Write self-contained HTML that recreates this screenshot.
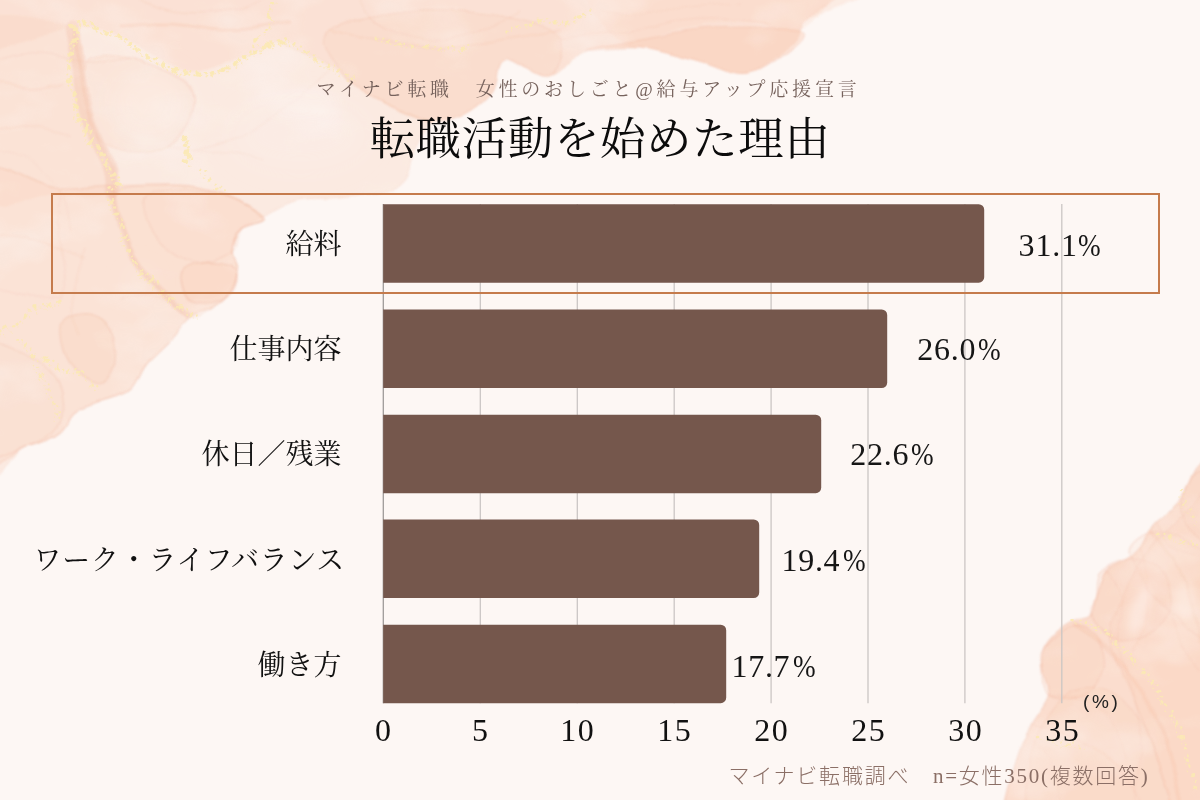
<!DOCTYPE html>
<html lang="ja">
<head>
<meta charset="utf-8">
<title>転職活動を始めた理由</title>
<style>
html,body{margin:0;padding:0;}
body{width:1200px;height:800px;overflow:hidden;position:relative;background:#fdf7f4;
  font-family:"Liberation Serif","Noto Serif CJK SC",serif;color:#111;}
svg.layer{position:absolute;left:0;top:0;width:1200px;height:800px;display:block;}
.abs{position:absolute;white-space:nowrap;}
.sub{left:1.5px;width:1200px;top:77px;text-align:center;font-size:19px;letter-spacing:3.8px;color:#76625c;line-height:26px;text-indent:-26px;}
.title{left:0;width:1200px;top:108px;text-align:center;font-size:45.5px;letter-spacing:0.6px;line-height:64px;color:#0c0c0c;text-indent:0px;}
.bar{position:absolute;left:383px;height:78.5px;background:#75574c;border-radius:0 6px 6px 0;}
.box{position:absolute;left:51px;top:193px;width:1105px;height:97px;border:2px solid #c57b4c;}
.cat{right:858.5px;font-size:28px;line-height:40px;text-align:right;color:#111;}
.val{font-size:32px;line-height:40px;color:#161616;letter-spacing:0.7px;}
.val span{display:inline-block;transform:scaleX(.85);transform-origin:0 50%;margin-left:2.2px;letter-spacing:0;}
.tick{font-size:32px;line-height:40px;width:100px;text-align:center;top:710px;color:#111;letter-spacing:1.5px;text-indent:1.5px;}
.pct{left:1083px;top:690px;font-family:"Liberation Sans",sans-serif;font-size:19px;line-height:24px;letter-spacing:2.6px;color:#222;}
.foot{left:728.5px;top:761.5px;font-family:"Liberation Serif","Noto Sans CJK JP",sans-serif;font-weight:300;font-size:21px;letter-spacing:1.76px;line-height:28px;color:#8b6f66;}
</style>
</head>
<body>
<svg class="layer" viewBox="0 0 1200 800" width="1200" height="800">
<defs>
<filter id="ink" x="-5%" y="-5%" width="110%" height="110%" color-interpolation-filters="sRGB">
  <feTurbulence type="fractalNoise" baseFrequency="0.022" numOctaves="3" seed="4" result="n"/>
  <feDisplacementMap in="SourceGraphic" in2="n" scale="8" xChannelSelector="R" yChannelSelector="G" result="d"/>
  <feGaussianBlur in="d" stdDeviation="0.8" result="b"/>
  <feTurbulence type="fractalNoise" baseFrequency="0.009 0.014" numOctaves="4" seed="21" result="m"/>
  <feColorMatrix in="m" type="matrix" values="0 0 0 0 1  0 0 0 0 1  0 0 0 0 1  1.3 0 0 0 0.34" result="ma"/>
  <feComposite in="b" in2="ma" operator="in"/>
</filter>
<filter id="soft" x="-20%" y="-20%" width="140%" height="140%"><feGaussianBlur stdDeviation="14"/></filter>
<filter id="soft2" x="-50%" y="-50%" width="200%" height="200%"><feGaussianBlur stdDeviation="4"/></filter>
<filter id="goldf" x="-5%" y="-5%" width="110%" height="110%" color-interpolation-filters="sRGB">
  <feTurbulence type="fractalNoise" baseFrequency="0.045" numOctaves="2" seed="9" result="n"/>
  <feDisplacementMap in="SourceGraphic" in2="n" scale="14" xChannelSelector="R" yChannelSelector="G"/>
</filter>
</defs>
<g filter="url(#ink)">
<path d="M-30.0,-30.0C41.7,-110.8 257.0,-30.0 400.0,-30.0C543.0,-30.0 761.0,-38.7 828.0,-30.0C895.0,-21.3 808.3,9.7 802.0,22.0C795.7,34.3 799.0,35.3 790.0,44.0C781.0,52.7 763.0,71.0 748.0,74.0C733.0,77.0 718.0,66.3 700.0,62.0C682.0,57.7 659.2,50.0 640.0,48.0C620.8,46.0 600.3,45.0 585.0,50.0C569.7,55.0 561.3,76.3 548.0,78.0C534.7,79.7 514.3,57.7 505.0,60.0C495.7,62.3 499.2,82.7 492.0,92.0C484.8,101.3 472.0,111.2 462.0,116.0C452.0,120.8 439.8,115.3 432.0,121.0C424.2,126.7 420.3,139.3 415.0,150.0C409.7,160.7 412.5,177.2 400.0,185.0C387.5,192.8 356.7,194.5 340.0,197.0C323.3,199.5 312.7,196.8 300.0,200.0C287.3,203.2 274.0,211.3 264.0,216.0C254.0,220.7 245.3,222.3 240.0,228.0C234.7,233.7 232.3,243.0 232.0,250.0C231.7,257.0 238.0,263.0 238.0,270.0C238.0,277.0 235.8,285.7 232.0,292.0C228.2,298.3 222.0,303.7 215.0,308.0C208.0,312.3 197.5,312.7 190.0,318.0C182.5,323.3 177.5,332.2 170.0,340.0C162.5,347.8 151.7,356.7 145.0,365.0C138.3,373.3 137.5,383.8 130.0,390.0C122.5,396.2 109.2,398.3 100.0,402.0C90.8,405.7 81.7,407.0 75.0,412.0C68.3,417.0 68.3,426.3 60.0,432.0C51.7,437.7 40.0,442.2 25.0,446.0C10.0,449.8 -20.8,534.3 -30.0,455.0C-39.2,375.7 -101.7,50.8 -30.0,-30.0Z" fill="#f9c6aa" fill-opacity="0.259" stroke="#f3bfa9" stroke-opacity="0.35" stroke-width="1"/>
<path d="M-30.0,-30.0C113.0,-43.3 689.3,-38.7 828.0,-30.0C966.7,-21.3 808.3,9.7 802.0,22.0C795.7,34.3 799.0,35.3 790.0,44.0C781.0,52.7 763.0,71.0 748.0,74.0C733.0,77.0 718.0,66.3 700.0,62.0C682.0,57.7 659.2,50.0 640.0,48.0C620.8,46.0 600.3,45.0 585.0,50.0C569.7,55.0 561.3,76.3 548.0,78.0C534.7,79.7 514.3,57.7 505.0,60.0C495.7,62.3 499.2,82.7 492.0,92.0C484.8,101.3 472.0,111.2 462.0,116.0C452.0,120.8 442.3,122.0 432.0,121.0C421.7,120.0 410.3,114.3 400.0,110.0C389.7,105.7 380.8,102.0 370.0,95.0C359.2,88.0 346.7,75.5 335.0,68.0C323.3,60.5 309.2,54.3 300.0,50.0C290.8,45.7 291.7,40.0 280.0,42.0C268.3,44.0 245.0,57.0 230.0,62.0C215.0,67.0 203.3,73.7 190.0,72.0C176.7,70.3 163.3,58.3 150.0,52.0C136.7,45.7 123.3,38.0 110.0,34.0C96.7,30.0 83.3,27.0 70.0,28.0C56.7,29.0 46.7,36.3 30.0,40.0C13.3,43.7 -20.0,61.7 -30.0,50.0C-40.0,38.3 -173.0,-16.7 -30.0,-30.0Z" fill="#f9c6aa" fill-opacity="0.223"/>
<path d="M330.0,30.0C343.3,20.0 388.3,11.7 420.0,10.0C451.7,8.3 496.7,15.0 520.0,20.0C543.3,25.0 555.3,30.3 560.0,40.0C564.7,49.7 557.2,74.7 548.0,78.0C538.8,81.3 514.3,57.7 505.0,60.0C495.7,62.3 499.2,82.7 492.0,92.0C484.8,101.3 472.0,111.2 462.0,116.0C452.0,120.8 442.3,122.0 432.0,121.0C421.7,120.0 410.3,114.3 400.0,110.0C389.7,105.7 380.0,101.7 370.0,95.0C360.0,88.3 346.7,80.8 340.0,70.0C333.3,59.2 316.7,40.0 330.0,30.0Z" fill="#f9c6aa" fill-opacity="0.158" stroke="#f1b9a2" stroke-opacity="0.35" stroke-width="1.2"/>
<path d="M585.0,50.0C585.0,48.7 620.8,43.3 640.0,40.0C659.2,36.7 680.0,32.0 700.0,30.0C720.0,28.0 743.3,28.0 760.0,28.0C776.7,28.0 794.2,27.2 800.0,30.0C805.8,32.8 803.7,37.7 795.0,45.0C786.3,52.3 763.8,71.2 748.0,74.0C732.2,76.8 718.0,66.3 700.0,62.0C682.0,57.7 659.2,50.0 640.0,48.0C620.8,46.0 585.0,51.3 585.0,50.0Z" fill="#f9c6aa" fill-opacity="0.36" stroke="#f1b9a2" stroke-opacity="0.45" stroke-width="1.2"/>
<path d="M600.0,-20.0C633.3,-30.0 786.7,-28.0 820.0,-20.0C853.3,-12.0 813.3,21.0 800.0,28.0C786.7,35.0 760.0,21.7 740.0,22.0C720.0,22.3 700.0,27.0 680.0,30.0C660.0,33.0 633.3,48.3 620.0,40.0C606.7,31.7 566.7,-10.0 600.0,-20.0Z" fill="#f9c6aa" fill-opacity="0.18"/>
<path d="M-30.0,30.0C-13.3,2.2 50.8,19.7 70.0,28.0C89.2,36.3 80.8,61.3 85.0,80.0C89.2,98.7 90.5,121.7 95.0,140.0C99.5,158.3 117.8,180.8 112.0,190.0C106.2,199.2 83.7,194.2 60.0,195.0C36.3,195.8 -15.0,222.5 -30.0,195.0C-45.0,167.5 -46.7,57.8 -30.0,30.0Z" fill="#f9c6aa" fill-opacity="0.194"/>
<path d="M88.0,60.0C94.7,53.0 116.3,56.0 130.0,58.0C143.7,60.0 159.7,66.7 170.0,72.0C180.3,77.3 189.0,82.0 192.0,90.0C195.0,98.0 191.7,110.8 188.0,120.0C184.3,129.2 179.7,139.7 170.0,145.0C160.3,150.3 141.7,152.8 130.0,152.0C118.3,151.2 106.7,148.7 100.0,140.0C93.3,131.3 92.0,113.3 90.0,100.0C88.0,86.7 81.3,67.0 88.0,60.0Z" fill="#f9c6aa" fill-opacity="0.144" stroke="#f2bca6" stroke-opacity="0.3" stroke-width="1.2"/>
<path d="M-30.0,185.0C-15.0,140.5 28.3,188.0 60.0,188.0C91.7,188.0 135.0,184.7 160.0,185.0C185.0,185.3 192.7,184.8 210.0,190.0C227.3,195.2 259.0,209.7 264.0,216.0C269.0,222.3 245.3,222.3 240.0,228.0C234.7,233.7 232.3,243.0 232.0,250.0C231.7,257.0 238.0,263.0 238.0,270.0C238.0,277.0 235.8,285.7 232.0,292.0C228.2,298.3 222.0,303.7 215.0,308.0C208.0,312.3 197.5,312.7 190.0,318.0C182.5,323.3 177.5,332.2 170.0,340.0C162.5,347.8 151.7,356.7 145.0,365.0C138.3,373.3 137.5,383.8 130.0,390.0C122.5,396.2 109.2,398.3 100.0,402.0C90.8,405.7 81.7,407.0 75.0,412.0C68.3,417.0 68.3,426.3 60.0,432.0C51.7,437.7 40.0,442.2 25.0,446.0C10.0,449.8 -20.8,498.5 -30.0,455.0C-39.2,411.5 -45.0,229.5 -30.0,185.0Z" fill="#f9c6aa" fill-opacity="0.194" stroke="#f0b59d" stroke-opacity="0.45" stroke-width="1.2"/>
<path d="M118.0,192.0C124.0,184.3 144.7,186.3 160.0,186.0C175.3,185.7 192.7,185.0 210.0,190.0C227.3,195.0 259.0,209.7 264.0,216.0C269.0,222.3 245.3,222.3 240.0,228.0C234.7,233.7 232.3,243.0 232.0,250.0C231.7,257.0 238.0,263.0 238.0,270.0C238.0,277.0 235.8,285.7 232.0,292.0C228.2,298.3 222.0,303.7 215.0,308.0C208.0,312.3 198.3,320.0 190.0,318.0C181.7,316.0 173.3,304.3 165.0,296.0C156.7,287.7 146.8,278.7 140.0,268.0C133.2,257.3 127.7,244.7 124.0,232.0C120.3,219.3 112.0,199.7 118.0,192.0Z" fill="#f9c6aa" fill-opacity="0.079" stroke="#f0b59d" stroke-opacity="0.3" stroke-width="1.2"/>
<path d="M182.0,272.0C184.8,266.0 196.7,263.0 205.0,262.0C213.3,261.0 226.5,263.0 232.0,266.0C237.5,269.0 238.3,275.0 238.0,280.0C237.7,285.0 234.7,292.0 230.0,296.0C225.3,300.0 217.0,303.7 210.0,304.0C203.0,304.3 192.7,303.3 188.0,298.0C183.3,292.7 179.2,278.0 182.0,272.0Z" fill="#f9c6aa" fill-opacity="0.187" stroke="#efb199" stroke-opacity="0.5" stroke-width="1.2"/>
<path d="M150.0,195.0C160.0,189.5 191.3,188.5 210.0,192.0C228.7,195.5 257.0,210.0 262.0,216.0C267.0,222.0 245.0,222.3 240.0,228.0C235.0,233.7 238.7,244.3 232.0,250.0C225.3,255.7 210.3,262.0 200.0,262.0C189.7,262.0 178.3,256.2 170.0,250.0C161.7,243.8 153.3,234.2 150.0,225.0C146.7,215.8 140.0,200.5 150.0,195.0Z" fill="#f9c6aa" fill-opacity="0.05" stroke="#f0b59d" stroke-opacity="0.3" stroke-width="1.2"/>
<path d="M62.0,322.0C66.3,315.7 81.7,312.7 90.0,314.0C98.3,315.3 107.7,322.3 112.0,330.0C116.3,337.7 117.3,351.0 116.0,360.0C114.7,369.0 110.0,381.3 104.0,384.0C98.0,386.7 86.7,381.3 80.0,376.0C73.3,370.7 67.0,361.0 64.0,352.0C61.0,343.0 57.7,328.3 62.0,322.0Z" fill="#f9c6aa" fill-opacity="0.216" stroke="#f0b59d" stroke-opacity="0.45" stroke-width="1.2"/>
<path d="M-30.0,345.0C-21.7,327.5 6.7,345.5 20.0,350.0C33.3,354.5 43.0,363.7 50.0,372.0C57.0,380.3 60.7,391.2 62.0,400.0C63.3,408.8 63.3,417.7 58.0,425.0C52.7,432.3 44.7,439.0 30.0,444.0C15.3,449.0 -20.0,471.5 -30.0,455.0C-40.0,438.5 -38.3,362.5 -30.0,345.0Z" fill="#f9c6aa" fill-opacity="0.086" stroke="#f0b59d" stroke-opacity="0.35" stroke-width="1.2"/>
<path d="M72.0,28.0C73.0,33.3 76.3,48.8 78.0,60.0C79.7,71.2 79.7,83.3 82.0,95.0C84.3,106.7 87.7,118.3 92.0,130.0C96.3,141.7 104.3,154.7 108.0,165.0C111.7,175.3 113.0,187.5 114.0,192.0" fill="none" stroke="#f3b79b" stroke-opacity="0.3" stroke-width="13" stroke-linecap="round"/>
<path d="M74.0,30.0C75.0,35.3 78.2,50.8 80.0,62.0C81.8,73.2 82.5,85.3 85.0,97.0C87.5,108.7 90.8,120.5 95.0,132.0C99.2,143.5 106.5,156.0 110.0,166.0C113.5,176.0 115.0,187.7 116.0,192.0" fill="none" stroke="#f3b79b" stroke-opacity="0.27" stroke-width="3" stroke-linecap="round"/>
<path d="M114.0,192.0C115.3,198.3 117.7,217.3 122.0,230.0C126.3,242.7 132.8,257.2 140.0,268.0C147.2,278.8 156.7,287.0 165.0,295.0C173.3,303.0 185.8,312.5 190.0,316.0" fill="none" stroke="#f3b79b" stroke-opacity="0.3" stroke-width="6" stroke-linecap="round"/>
<path d="M86.0,250.0C84.3,255.0 78.7,270.0 76.0,280.0C73.3,290.0 69.3,300.8 70.0,310.0C70.7,319.2 78.3,330.8 80.0,335.0" fill="none" stroke="#f3b79b" stroke-opacity="0.18" stroke-width="1.5" stroke-linecap="round"/>
<path d="M120.0,26.0C128.3,25.7 153.3,23.3 170.0,24.0C186.7,24.7 205.8,29.3 220.0,30.0C234.2,30.7 243.3,29.3 255.0,28.0C266.7,26.7 284.2,23.0 290.0,22.0" fill="none" stroke="#f3b79b" stroke-opacity="0.27" stroke-width="3" stroke-linecap="round"/>
<path d="M280.0,42.0C288.3,46.0 315.0,57.2 330.0,66.0C345.0,74.8 358.3,87.7 370.0,95.0C381.7,102.3 389.7,105.7 400.0,110.0C410.3,114.3 426.7,119.2 432.0,121.0" fill="none" stroke="#f3b79b" stroke-opacity="0.21" stroke-width="2" stroke-linecap="round"/>
<path d="M330.0,30.0C338.3,31.7 361.7,37.0 380.0,40.0C398.3,43.0 420.0,48.0 440.0,48.0C460.0,48.0 480.0,43.0 500.0,40.0C520.0,37.0 550.0,31.7 560.0,30.0" fill="none" stroke="#f3b79b" stroke-opacity="0.18" stroke-width="2" stroke-linecap="round"/>
<path d="M0.0,80.0C5.0,81.7 19.7,89.3 30.0,90.0C40.3,90.7 56.7,85.0 62.0,84.0" fill="none" stroke="#f3b79b" stroke-opacity="0.18" stroke-width="2" stroke-linecap="round"/>
<path d="M0.0,130.0C5.0,129.3 18.3,125.2 30.0,126.0C41.7,126.8 63.3,133.5 70.0,135.0" fill="none" stroke="#f3b79b" stroke-opacity="0.15" stroke-width="2" stroke-linecap="round"/>
<path d="M0.0,235.0C6.7,235.8 25.8,235.8 40.0,240.0C54.2,244.2 77.5,256.7 85.0,260.0" fill="none" stroke="#f3b79b" stroke-opacity="0.15" stroke-width="2" stroke-linecap="round"/>
<path d="M0.0,60.0C6.7,58.7 25.0,51.7 40.0,52.0C55.0,52.3 75.0,61.0 90.0,62.0C105.0,63.0 123.3,58.7 130.0,58.0" fill="none" stroke="#eeae94" stroke-opacity="0.21" stroke-width="1.2" stroke-linecap="round"/>
<path d="M130.0,58.0C136.7,60.3 159.7,66.3 170.0,72.0C180.3,77.7 189.0,83.3 192.0,92.0C195.0,100.7 192.0,115.0 188.0,124.0C184.0,133.0 171.3,142.3 168.0,146.0" fill="none" stroke="#eeae94" stroke-opacity="0.18" stroke-width="1.2" stroke-linecap="round"/>
<path d="M195.0,150.0C200.8,148.3 217.5,145.0 230.0,140.0C242.5,135.0 258.3,127.5 270.0,120.0C281.7,112.5 290.0,103.3 300.0,95.0C310.0,86.7 325.0,74.2 330.0,70.0" fill="none" stroke="#eeae94" stroke-opacity="0.168" stroke-width="1.0" stroke-linecap="round"/>
<path d="M170.0,146.0C175.0,146.7 188.3,149.0 200.0,150.0C211.7,151.0 229.7,150.3 240.0,152.0C250.3,153.7 258.3,158.7 262.0,160.0" fill="none" stroke="#eeae94" stroke-opacity="0.15" stroke-width="1.0" stroke-linecap="round"/>
<path d="M0.0,150.0C5.0,151.7 20.0,153.3 30.0,160.0C40.0,166.7 53.3,178.3 60.0,190.0C66.7,201.7 68.3,223.3 70.0,230.0" fill="none" stroke="#eeae94" stroke-opacity="0.15" stroke-width="1.0" stroke-linecap="round"/>
<path d="M60.0,190.0C59.7,196.7 57.0,216.7 58.0,230.0C59.0,243.3 65.7,258.3 66.0,270.0C66.3,281.7 61.0,295.0 60.0,300.0" fill="none" stroke="#eeae94" stroke-opacity="0.168" stroke-width="1.2" stroke-linecap="round"/>
<path d="M120.0,300.0C125.0,299.3 140.7,295.3 150.0,296.0C159.3,296.7 169.7,300.0 176.0,304.0C182.3,308.0 186.0,317.3 188.0,320.0" fill="none" stroke="#eeae94" stroke-opacity="0.18" stroke-width="1.2" stroke-linecap="round"/>
<path d="M0.0,290.0C5.0,291.0 20.0,294.3 30.0,296.0C40.0,297.7 55.0,299.3 60.0,300.0" fill="none" stroke="#eeae94" stroke-opacity="0.18" stroke-width="1.2" stroke-linecap="round"/>
<path d="M360.0,0.0C362.0,3.3 365.3,14.3 372.0,20.0C378.7,25.7 388.7,30.7 400.0,34.0C411.3,37.3 426.7,40.7 440.0,40.0C453.3,39.3 466.7,34.7 480.0,30.0C493.3,25.3 513.3,15.0 520.0,12.0" fill="none" stroke="#eeae94" stroke-opacity="0.18" stroke-width="1.2" stroke-linecap="round"/>
<path d="M560.0,40.0C566.7,38.7 586.7,33.7 600.0,32.0C613.3,30.3 626.7,31.7 640.0,30.0C653.3,28.3 666.7,23.7 680.0,22.0C693.3,20.3 705.0,19.7 720.0,20.0C735.0,20.3 761.7,23.3 770.0,24.0" fill="none" stroke="#eeae94" stroke-opacity="0.18" stroke-width="1.2" stroke-linecap="round"/>
<path d="M600.0,10.0C606.7,10.7 625.0,14.3 640.0,14.0C655.0,13.7 673.3,9.7 690.0,8.0C706.7,6.3 731.7,4.7 740.0,4.0" fill="none" stroke="#eeae94" stroke-opacity="0.15" stroke-width="1.0" stroke-linecap="round"/>
<path d="M140.0,0.0C146.7,2.0 165.0,10.3 180.0,12.0C195.0,13.7 216.7,12.0 230.0,10.0C243.3,8.0 255.0,1.7 260.0,0.0" fill="none" stroke="#eeae94" stroke-opacity="0.18" stroke-width="1.5" stroke-linecap="round"/>
</g>
<g filter="url(#soft)">
<ellipse cx="300" cy="135" rx="70" ry="36" fill="#fff6f2" fill-opacity="0.18"/>
<ellipse cx="140" cy="282" rx="5" ry="9" fill="#fffaf7" fill-opacity="0.8" transform="rotate(20 140 282)"/>
<ellipse cx="150" cy="105" rx="38" ry="34" fill="#fff6f2" fill-opacity="0.35"/>
</g>
<g filter="url(#ink)">
<path d="M1230.0,452.0C1225.0,391.0 1207.0,458.3 1200.0,464.0C1193.0,469.7 1192.0,479.3 1188.0,486.0C1184.0,492.7 1181.3,498.3 1176.0,504.0C1170.7,509.7 1160.7,515.3 1156.0,520.0C1151.3,524.7 1150.7,527.3 1148.0,532.0C1145.3,536.7 1143.7,543.3 1140.0,548.0C1136.3,552.7 1131.7,556.0 1126.0,560.0C1120.3,564.0 1111.0,566.0 1106.0,572.0C1101.0,578.0 1098.7,588.7 1096.0,596.0C1093.3,603.3 1094.0,611.8 1090.0,616.0C1086.0,620.2 1077.7,618.3 1072.0,621.0C1066.3,623.7 1060.7,627.5 1056.0,632.0C1051.3,636.5 1046.3,642.0 1044.0,648.0C1041.7,654.0 1041.3,660.7 1042.0,668.0C1042.7,675.3 1048.7,684.7 1048.0,692.0C1047.3,699.3 1041.7,704.8 1038.0,712.0C1034.3,719.2 1029.7,726.7 1026.0,735.0C1022.3,743.3 1019.3,751.2 1016.0,762.0C1012.7,772.8 1008.7,788.7 1006.0,800.0C1003.3,811.3 962.7,825.0 1000.0,830.0C1037.3,835.0 1191.7,893.0 1230.0,830.0C1268.3,767.0 1235.0,513.0 1230.0,452.0Z" fill="#f9c6aa" fill-opacity="0.518" stroke="#f0b8a0" stroke-opacity="0.5" stroke-width="1.2"/>
<path d="M1230.0,500.0C1223.3,446.7 1201.7,504.2 1190.0,510.0C1178.3,515.8 1168.3,526.7 1160.0,535.0C1151.7,543.3 1146.7,549.2 1140.0,560.0C1133.3,570.8 1125.0,586.7 1120.0,600.0C1115.0,613.3 1108.3,625.0 1110.0,640.0C1111.7,655.0 1123.3,673.3 1130.0,690.0C1136.7,706.7 1143.3,721.7 1150.0,740.0C1156.7,758.3 1165.0,785.0 1170.0,800.0C1175.0,815.0 1170.0,825.0 1180.0,830.0C1190.0,835.0 1221.7,885.0 1230.0,830.0C1238.3,775.0 1236.7,553.3 1230.0,500.0Z" fill="#f9c6aa" fill-opacity="0.216" stroke="#f1b9a2" stroke-opacity="0.35" stroke-width="1.2"/>
<path d="M1188.0,486.0C1191.3,479.0 1193.0,472.7 1200.0,470.0C1207.0,467.3 1225.0,457.5 1230.0,470.0C1235.0,482.5 1235.8,534.2 1230.0,545.0C1224.2,555.8 1203.3,540.5 1195.0,535.0C1186.7,529.5 1181.2,520.2 1180.0,512.0C1178.8,503.8 1184.7,493.0 1188.0,486.0Z" fill="#f9c6aa" fill-opacity="0.158" stroke="#f1b9a2" stroke-opacity="0.4" stroke-width="1.2"/>
<path d="M1044.0,648.0C1049.0,641.0 1063.3,628.0 1072.0,626.0C1080.7,624.0 1090.7,629.0 1096.0,636.0C1101.3,643.0 1106.0,658.0 1104.0,668.0C1102.0,678.0 1093.3,691.7 1084.0,696.0C1074.7,700.3 1055.0,698.7 1048.0,694.0C1041.0,689.3 1042.7,675.7 1042.0,668.0C1041.3,660.3 1039.0,655.0 1044.0,648.0Z" fill="#f9c6aa" fill-opacity="0.158" stroke="#f1b9a2" stroke-opacity="0.45" stroke-width="1.2"/>
<path d="M1100.0,574.0C1105.3,568.0 1118.0,561.3 1128.0,560.0C1138.0,558.7 1152.7,558.7 1160.0,566.0C1167.3,573.3 1173.3,593.0 1172.0,604.0C1170.7,615.0 1161.3,626.0 1152.0,632.0C1142.7,638.0 1126.0,642.7 1116.0,640.0C1106.0,637.3 1095.3,623.3 1092.0,616.0C1088.7,608.7 1094.7,603.0 1096.0,596.0C1097.3,589.0 1094.7,580.0 1100.0,574.0Z" fill="#f9c6aa" fill-opacity="0.158" stroke="#f1b9a2" stroke-opacity="0.45" stroke-width="1.2"/>
<path d="M1130.0,548.0C1133.3,540.5 1148.3,530.0 1160.0,530.0C1171.7,530.0 1188.3,543.0 1200.0,548.0C1211.7,553.0 1225.0,544.7 1230.0,560.0C1235.0,575.3 1236.7,628.3 1230.0,640.0C1223.3,651.7 1201.7,636.7 1190.0,630.0C1178.3,623.3 1168.3,609.2 1160.0,600.0C1151.7,590.8 1145.0,583.7 1140.0,575.0C1135.0,566.3 1126.7,555.5 1130.0,548.0Z" fill="#f9c6aa" fill-opacity="0.144" stroke="#f1b9a2" stroke-opacity="0.4" stroke-width="1.2"/>
<path d="M1060.0,700.0C1071.7,688.3 1086.7,686.7 1100.0,690.0C1113.3,693.3 1130.0,706.7 1140.0,720.0C1150.0,733.3 1155.8,751.7 1160.0,770.0C1164.2,788.3 1185.0,820.0 1165.0,830.0C1145.0,840.0 1062.5,841.7 1040.0,830.0C1017.5,818.3 1026.7,781.7 1030.0,760.0C1033.3,738.3 1048.3,711.7 1060.0,700.0Z" fill="#f9c6aa" fill-opacity="0.115" stroke="#f1b9a2" stroke-opacity="0.35" stroke-width="1.2"/>
<path d="M1150.0,530.0C1154.2,535.0 1168.3,548.3 1175.0,560.0C1181.7,571.7 1185.8,586.7 1190.0,600.0C1194.2,613.3 1198.3,633.3 1200.0,640.0" fill="none" stroke="#f3b79b" stroke-opacity="0.24" stroke-width="3" stroke-linecap="round"/>
<path d="M1075.0,625.0C1080.8,629.2 1099.2,639.2 1110.0,650.0C1120.8,660.8 1130.8,675.0 1140.0,690.0C1149.2,705.0 1158.3,721.7 1165.0,740.0C1171.7,758.3 1177.5,790.0 1180.0,800.0" fill="none" stroke="#f3b79b" stroke-opacity="0.24" stroke-width="3.5" stroke-linecap="round"/>
<path d="M1030.0,725.0C1036.7,726.7 1056.7,729.2 1070.0,735.0C1083.3,740.8 1098.3,749.2 1110.0,760.0C1121.7,770.8 1135.0,793.3 1140.0,800.0" fill="none" stroke="#f3b79b" stroke-opacity="0.18" stroke-width="2" stroke-linecap="round"/>
<path d="M1140.0,548.0C1141.7,556.7 1150.8,583.0 1150.0,600.0C1149.2,617.0 1137.5,641.7 1135.0,650.0" fill="none" stroke="#f3b79b" stroke-opacity="0.18" stroke-width="2" stroke-linecap="round"/>
<path d="M1106.0,572.0C1108.3,576.7 1118.0,588.7 1120.0,600.0C1122.0,611.3 1116.3,626.7 1118.0,640.0C1119.7,653.3 1128.0,673.3 1130.0,680.0" fill="none" stroke="#eeae94" stroke-opacity="0.18" stroke-width="1.2" stroke-linecap="round"/>
<path d="M1156.0,520.0C1158.3,524.2 1162.7,539.0 1170.0,545.0C1177.3,551.0 1195.0,554.2 1200.0,556.0" fill="none" stroke="#eeae94" stroke-opacity="0.18" stroke-width="1.2" stroke-linecap="round"/>
<path d="M1096.0,640.0C1100.0,644.2 1113.5,655.0 1120.0,665.0C1126.5,675.0 1131.7,686.7 1135.0,700.0C1138.3,713.3 1140.0,728.3 1140.0,745.0C1140.0,761.7 1135.8,790.8 1135.0,800.0" fill="none" stroke="#eeae94" stroke-opacity="0.168" stroke-width="1.2" stroke-linecap="round"/>
<path d="M1048.0,694.0C1053.3,695.0 1069.7,695.7 1080.0,700.0C1090.3,704.3 1102.5,710.0 1110.0,720.0C1117.5,730.0 1122.5,753.3 1125.0,760.0" fill="none" stroke="#eeae94" stroke-opacity="0.168" stroke-width="1.0" stroke-linecap="round"/>
<path d="M1165.0,600.0C1167.5,606.7 1174.2,628.3 1180.0,640.0C1185.8,651.7 1196.7,665.0 1200.0,670.0" fill="none" stroke="#eeae94" stroke-opacity="0.168" stroke-width="1.2" stroke-linecap="round"/>
<path d="M1026.0,735.0C1030.0,739.2 1044.3,749.2 1050.0,760.0C1055.7,770.8 1058.3,793.3 1060.0,800.0" fill="none" stroke="#eeae94" stroke-opacity="0.15" stroke-width="1.0" stroke-linecap="round"/>
</g>
<g filter="url(#soft2)">
<ellipse cx="1140" cy="610" rx="9" ry="26" fill="#fff6f2" fill-opacity="0.5" transform="rotate(18 1140 610)"/>
<ellipse cx="1185" cy="600" rx="10" ry="20" fill="#fff6f2" fill-opacity="0.35"/>
</g>
<g filter="url(#goldf)">
<path d="M70.0,26.0C73.3,25.7 83.0,22.7 90.0,24.0C97.0,25.3 104.5,30.0 112.0,34.0C119.5,38.0 127.0,43.3 135.0,48.0C143.0,52.7 151.7,57.7 160.0,62.0C168.3,66.3 176.7,72.0 185.0,74.0C193.3,76.0 201.7,75.7 210.0,74.0C218.3,72.3 226.7,68.3 235.0,64.0C243.3,59.7 251.7,52.0 260.0,48.0C268.3,44.0 280.8,41.3 285.0,40.0" fill="none" stroke="#fbe9b4" stroke-opacity="0.9" stroke-width="4.68" stroke-linecap="round" stroke-dasharray="0.1 12.7" stroke-dashoffset="0" transform="translate(0.0,0.0)"/>
<path d="M70.0,26.0C73.3,25.7 83.0,22.7 90.0,24.0C97.0,25.3 104.5,30.0 112.0,34.0C119.5,38.0 127.0,43.3 135.0,48.0C143.0,52.7 151.7,57.7 160.0,62.0C168.3,66.3 176.7,72.0 185.0,74.0C193.3,76.0 201.7,75.7 210.0,74.0C218.3,72.3 226.7,68.3 235.0,64.0C243.3,59.7 251.7,52.0 260.0,48.0C268.3,44.0 280.8,41.3 285.0,40.0" fill="none" stroke="#fbe9b4" stroke-opacity="0.9" stroke-width="3.24" stroke-linecap="round" stroke-dasharray="0.1 7.3" stroke-dashoffset="2.5" transform="translate(1.8,-1.5)"/>
<path d="M70.0,26.0C73.3,25.7 83.0,22.7 90.0,24.0C97.0,25.3 104.5,30.0 112.0,34.0C119.5,38.0 127.0,43.3 135.0,48.0C143.0,52.7 151.7,57.7 160.0,62.0C168.3,66.3 176.7,72.0 185.0,74.0C193.3,76.0 201.7,75.7 210.0,74.0C218.3,72.3 226.7,68.3 235.0,64.0C243.3,59.7 251.7,52.0 260.0,48.0C268.3,44.0 280.8,41.3 285.0,40.0" fill="none" stroke="#fbe9b4" stroke-opacity="0.85" stroke-width="1.98" stroke-linecap="round" stroke-dasharray="0.1 4.9" stroke-dashoffset="1.2" transform="translate(-1.6,1.8)"/>
<path d="M70.0,26.0C73.3,25.7 83.0,22.7 90.0,24.0C97.0,25.3 104.5,30.0 112.0,34.0C119.5,38.0 127.0,43.3 135.0,48.0C143.0,52.7 151.7,57.7 160.0,62.0C168.3,66.3 176.7,72.0 185.0,74.0C193.3,76.0 201.7,75.7 210.0,74.0C218.3,72.3 226.7,68.3 235.0,64.0C243.3,59.7 251.7,52.0 260.0,48.0C268.3,44.0 280.8,41.3 285.0,40.0" fill="none" stroke="#fbe9b4" stroke-opacity="0.85" stroke-width="1.51" stroke-linecap="round" stroke-dasharray="0.1 8.1" stroke-dashoffset="4.0" transform="translate(2.6,2.4)"/>
<path d="M72.0,30.0C71.7,35.0 69.7,49.2 70.0,60.0C70.3,70.8 71.7,84.2 74.0,95.0C76.3,105.8 80.0,115.8 84.0,125.0C88.0,134.2 93.7,142.8 98.0,150.0C102.3,157.2 107.0,161.3 110.0,168.0C113.0,174.7 115.0,186.3 116.0,190.0" fill="none" stroke="#fbe9b4" stroke-opacity="0.9" stroke-width="4.42" stroke-linecap="round" stroke-dasharray="0.1 12.7" stroke-dashoffset="0" transform="translate(0.0,0.0)"/>
<path d="M72.0,30.0C71.7,35.0 69.7,49.2 70.0,60.0C70.3,70.8 71.7,84.2 74.0,95.0C76.3,105.8 80.0,115.8 84.0,125.0C88.0,134.2 93.7,142.8 98.0,150.0C102.3,157.2 107.0,161.3 110.0,168.0C113.0,174.7 115.0,186.3 116.0,190.0" fill="none" stroke="#fbe9b4" stroke-opacity="0.9" stroke-width="3.06" stroke-linecap="round" stroke-dasharray="0.1 7.3" stroke-dashoffset="2.5" transform="translate(1.8,-1.5)"/>
<path d="M72.0,30.0C71.7,35.0 69.7,49.2 70.0,60.0C70.3,70.8 71.7,84.2 74.0,95.0C76.3,105.8 80.0,115.8 84.0,125.0C88.0,134.2 93.7,142.8 98.0,150.0C102.3,157.2 107.0,161.3 110.0,168.0C113.0,174.7 115.0,186.3 116.0,190.0" fill="none" stroke="#fbe9b4" stroke-opacity="0.85" stroke-width="1.87" stroke-linecap="round" stroke-dasharray="0.1 4.9" stroke-dashoffset="1.2" transform="translate(-1.6,1.8)"/>
<path d="M72.0,30.0C71.7,35.0 69.7,49.2 70.0,60.0C70.3,70.8 71.7,84.2 74.0,95.0C76.3,105.8 80.0,115.8 84.0,125.0C88.0,134.2 93.7,142.8 98.0,150.0C102.3,157.2 107.0,161.3 110.0,168.0C113.0,174.7 115.0,186.3 116.0,190.0" fill="none" stroke="#fbe9b4" stroke-opacity="0.85" stroke-width="1.43" stroke-linecap="round" stroke-dasharray="0.1 8.1" stroke-dashoffset="4.0" transform="translate(2.6,2.4)"/>
<path d="M250.0,50.0C252.0,47.3 258.3,39.8 262.0,34.0C265.7,28.2 269.3,20.7 272.0,15.0C274.7,9.3 277.0,2.5 278.0,0.0" fill="none" stroke="#fbe9b4" stroke-opacity="0.9" stroke-width="3.38" stroke-linecap="round" stroke-dasharray="0.1 12.7" stroke-dashoffset="0" transform="translate(0.0,0.0)"/>
<path d="M250.0,50.0C252.0,47.3 258.3,39.8 262.0,34.0C265.7,28.2 269.3,20.7 272.0,15.0C274.7,9.3 277.0,2.5 278.0,0.0" fill="none" stroke="#fbe9b4" stroke-opacity="0.9" stroke-width="2.34" stroke-linecap="round" stroke-dasharray="0.1 7.3" stroke-dashoffset="2.5" transform="translate(1.8,-1.5)"/>
<path d="M250.0,50.0C252.0,47.3 258.3,39.8 262.0,34.0C265.7,28.2 269.3,20.7 272.0,15.0C274.7,9.3 277.0,2.5 278.0,0.0" fill="none" stroke="#fbe9b4" stroke-opacity="0.85" stroke-width="1.43" stroke-linecap="round" stroke-dasharray="0.1 4.9" stroke-dashoffset="1.2" transform="translate(-1.6,1.8)"/>
<path d="M250.0,50.0C252.0,47.3 258.3,39.8 262.0,34.0C265.7,28.2 269.3,20.7 272.0,15.0C274.7,9.3 277.0,2.5 278.0,0.0" fill="none" stroke="#fbe9b4" stroke-opacity="0.85" stroke-width="1.09" stroke-linecap="round" stroke-dasharray="0.1 8.1" stroke-dashoffset="4.0" transform="translate(2.6,2.4)"/>
<path d="M108.0,190.0C109.3,194.7 113.0,208.7 116.0,218.0C119.0,227.3 121.7,237.0 126.0,246.0C130.3,255.0 136.0,264.3 142.0,272.0C148.0,279.7 155.3,285.7 162.0,292.0C168.7,298.3 176.3,305.7 182.0,310.0C187.7,314.3 193.7,316.7 196.0,318.0" fill="none" stroke="#fbe9b4" stroke-opacity="0.9" stroke-width="3.64" stroke-linecap="round" stroke-dasharray="0.1 12.7" stroke-dashoffset="0" transform="translate(0.0,0.0)"/>
<path d="M108.0,190.0C109.3,194.7 113.0,208.7 116.0,218.0C119.0,227.3 121.7,237.0 126.0,246.0C130.3,255.0 136.0,264.3 142.0,272.0C148.0,279.7 155.3,285.7 162.0,292.0C168.7,298.3 176.3,305.7 182.0,310.0C187.7,314.3 193.7,316.7 196.0,318.0" fill="none" stroke="#fbe9b4" stroke-opacity="0.9" stroke-width="2.52" stroke-linecap="round" stroke-dasharray="0.1 7.3" stroke-dashoffset="2.5" transform="translate(1.8,-1.5)"/>
<path d="M108.0,190.0C109.3,194.7 113.0,208.7 116.0,218.0C119.0,227.3 121.7,237.0 126.0,246.0C130.3,255.0 136.0,264.3 142.0,272.0C148.0,279.7 155.3,285.7 162.0,292.0C168.7,298.3 176.3,305.7 182.0,310.0C187.7,314.3 193.7,316.7 196.0,318.0" fill="none" stroke="#fbe9b4" stroke-opacity="0.85" stroke-width="1.54" stroke-linecap="round" stroke-dasharray="0.1 4.9" stroke-dashoffset="1.2" transform="translate(-1.6,1.8)"/>
<path d="M108.0,190.0C109.3,194.7 113.0,208.7 116.0,218.0C119.0,227.3 121.7,237.0 126.0,246.0C130.3,255.0 136.0,264.3 142.0,272.0C148.0,279.7 155.3,285.7 162.0,292.0C168.7,298.3 176.3,305.7 182.0,310.0C187.7,314.3 193.7,316.7 196.0,318.0" fill="none" stroke="#fbe9b4" stroke-opacity="0.85" stroke-width="1.18" stroke-linecap="round" stroke-dasharray="0.1 8.1" stroke-dashoffset="4.0" transform="translate(2.6,2.4)"/>
<path d="M62.0,300.0C58.3,301.3 46.7,305.0 40.0,308.0C33.3,311.0 27.7,314.3 22.0,318.0C16.3,321.7 10.3,327.0 6.0,330.0C1.7,333.0 -2.3,335.0 -4.0,336.0" fill="none" stroke="#fbe9b4" stroke-opacity="0.9" stroke-width="3.12" stroke-linecap="round" stroke-dasharray="0.1 12.7" stroke-dashoffset="0" transform="translate(0.0,0.0)"/>
<path d="M62.0,300.0C58.3,301.3 46.7,305.0 40.0,308.0C33.3,311.0 27.7,314.3 22.0,318.0C16.3,321.7 10.3,327.0 6.0,330.0C1.7,333.0 -2.3,335.0 -4.0,336.0" fill="none" stroke="#fbe9b4" stroke-opacity="0.9" stroke-width="2.16" stroke-linecap="round" stroke-dasharray="0.1 7.3" stroke-dashoffset="2.5" transform="translate(1.8,-1.5)"/>
<path d="M62.0,300.0C58.3,301.3 46.7,305.0 40.0,308.0C33.3,311.0 27.7,314.3 22.0,318.0C16.3,321.7 10.3,327.0 6.0,330.0C1.7,333.0 -2.3,335.0 -4.0,336.0" fill="none" stroke="#fbe9b4" stroke-opacity="0.85" stroke-width="1.32" stroke-linecap="round" stroke-dasharray="0.1 4.9" stroke-dashoffset="1.2" transform="translate(-1.6,1.8)"/>
<path d="M62.0,300.0C58.3,301.3 46.7,305.0 40.0,308.0C33.3,311.0 27.7,314.3 22.0,318.0C16.3,321.7 10.3,327.0 6.0,330.0C1.7,333.0 -2.3,335.0 -4.0,336.0" fill="none" stroke="#fbe9b4" stroke-opacity="0.85" stroke-width="1.01" stroke-linecap="round" stroke-dasharray="0.1 8.1" stroke-dashoffset="4.0" transform="translate(2.6,2.4)"/>
<path d="M14.0,340.0C17.7,342.5 29.0,350.8 36.0,355.0C43.0,359.2 49.3,362.2 56.0,365.0C62.7,367.8 69.3,368.5 76.0,372.0C82.7,375.5 92.7,383.7 96.0,386.0" fill="none" stroke="#fbe9b4" stroke-opacity="0.9" stroke-width="3.38" stroke-linecap="round" stroke-dasharray="0.1 12.7" stroke-dashoffset="0" transform="translate(0.0,0.0)"/>
<path d="M14.0,340.0C17.7,342.5 29.0,350.8 36.0,355.0C43.0,359.2 49.3,362.2 56.0,365.0C62.7,367.8 69.3,368.5 76.0,372.0C82.7,375.5 92.7,383.7 96.0,386.0" fill="none" stroke="#fbe9b4" stroke-opacity="0.9" stroke-width="2.34" stroke-linecap="round" stroke-dasharray="0.1 7.3" stroke-dashoffset="2.5" transform="translate(1.8,-1.5)"/>
<path d="M14.0,340.0C17.7,342.5 29.0,350.8 36.0,355.0C43.0,359.2 49.3,362.2 56.0,365.0C62.7,367.8 69.3,368.5 76.0,372.0C82.7,375.5 92.7,383.7 96.0,386.0" fill="none" stroke="#fbe9b4" stroke-opacity="0.85" stroke-width="1.43" stroke-linecap="round" stroke-dasharray="0.1 4.9" stroke-dashoffset="1.2" transform="translate(-1.6,1.8)"/>
<path d="M14.0,340.0C17.7,342.5 29.0,350.8 36.0,355.0C43.0,359.2 49.3,362.2 56.0,365.0C62.7,367.8 69.3,368.5 76.0,372.0C82.7,375.5 92.7,383.7 96.0,386.0" fill="none" stroke="#fbe9b4" stroke-opacity="0.85" stroke-width="1.09" stroke-linecap="round" stroke-dasharray="0.1 8.1" stroke-dashoffset="4.0" transform="translate(2.6,2.4)"/>
<path d="M36.0,366.0C37.7,369.3 42.8,379.5 46.0,386.0C49.2,392.5 53.0,399.0 55.0,405.0C57.0,411.0 57.5,419.2 58.0,422.0" fill="none" stroke="#fbe9b4" stroke-opacity="0.9" stroke-width="2.60" stroke-linecap="round" stroke-dasharray="0.1 12.7" stroke-dashoffset="0" transform="translate(0.0,0.0)"/>
<path d="M36.0,366.0C37.7,369.3 42.8,379.5 46.0,386.0C49.2,392.5 53.0,399.0 55.0,405.0C57.0,411.0 57.5,419.2 58.0,422.0" fill="none" stroke="#fbe9b4" stroke-opacity="0.9" stroke-width="1.80" stroke-linecap="round" stroke-dasharray="0.1 7.3" stroke-dashoffset="2.5" transform="translate(1.8,-1.5)"/>
<path d="M36.0,366.0C37.7,369.3 42.8,379.5 46.0,386.0C49.2,392.5 53.0,399.0 55.0,405.0C57.0,411.0 57.5,419.2 58.0,422.0" fill="none" stroke="#fbe9b4" stroke-opacity="0.85" stroke-width="1.10" stroke-linecap="round" stroke-dasharray="0.1 4.9" stroke-dashoffset="1.2" transform="translate(-1.6,1.8)"/>
<path d="M36.0,366.0C37.7,369.3 42.8,379.5 46.0,386.0C49.2,392.5 53.0,399.0 55.0,405.0C57.0,411.0 57.5,419.2 58.0,422.0" fill="none" stroke="#fbe9b4" stroke-opacity="0.85" stroke-width="0.84" stroke-linecap="round" stroke-dasharray="0.1 8.1" stroke-dashoffset="4.0" transform="translate(2.6,2.4)"/>
<path d="M283.0,42.0C286.7,43.7 297.2,48.0 305.0,52.0C312.8,56.0 322.2,61.3 330.0,66.0C337.8,70.7 348.3,77.7 352.0,80.0" fill="none" stroke="#fbe9b4" stroke-opacity="0.9" stroke-width="3.12" stroke-linecap="round" stroke-dasharray="0.1 12.7" stroke-dashoffset="0" transform="translate(0.0,0.0)"/>
<path d="M283.0,42.0C286.7,43.7 297.2,48.0 305.0,52.0C312.8,56.0 322.2,61.3 330.0,66.0C337.8,70.7 348.3,77.7 352.0,80.0" fill="none" stroke="#fbe9b4" stroke-opacity="0.9" stroke-width="2.16" stroke-linecap="round" stroke-dasharray="0.1 7.3" stroke-dashoffset="2.5" transform="translate(1.8,-1.5)"/>
<path d="M283.0,42.0C286.7,43.7 297.2,48.0 305.0,52.0C312.8,56.0 322.2,61.3 330.0,66.0C337.8,70.7 348.3,77.7 352.0,80.0" fill="none" stroke="#fbe9b4" stroke-opacity="0.85" stroke-width="1.32" stroke-linecap="round" stroke-dasharray="0.1 4.9" stroke-dashoffset="1.2" transform="translate(-1.6,1.8)"/>
<path d="M283.0,42.0C286.7,43.7 297.2,48.0 305.0,52.0C312.8,56.0 322.2,61.3 330.0,66.0C337.8,70.7 348.3,77.7 352.0,80.0" fill="none" stroke="#fbe9b4" stroke-opacity="0.85" stroke-width="1.01" stroke-linecap="round" stroke-dasharray="0.1 8.1" stroke-dashoffset="4.0" transform="translate(2.6,2.4)"/>
<path d="M375.0,38.0C380.8,39.3 398.3,44.0 410.0,46.0C421.7,48.0 435.0,50.0 445.0,50.0C455.0,50.0 465.8,46.7 470.0,46.0" fill="none" stroke="#fbe9b4" stroke-opacity="0.9" stroke-width="3.12" stroke-linecap="round" stroke-dasharray="0.1 12.7" stroke-dashoffset="0" transform="translate(0.0,0.0)"/>
<path d="M375.0,38.0C380.8,39.3 398.3,44.0 410.0,46.0C421.7,48.0 435.0,50.0 445.0,50.0C455.0,50.0 465.8,46.7 470.0,46.0" fill="none" stroke="#fbe9b4" stroke-opacity="0.9" stroke-width="2.16" stroke-linecap="round" stroke-dasharray="0.1 7.3" stroke-dashoffset="2.5" transform="translate(1.8,-1.5)"/>
<path d="M375.0,38.0C380.8,39.3 398.3,44.0 410.0,46.0C421.7,48.0 435.0,50.0 445.0,50.0C455.0,50.0 465.8,46.7 470.0,46.0" fill="none" stroke="#fbe9b4" stroke-opacity="0.85" stroke-width="1.32" stroke-linecap="round" stroke-dasharray="0.1 4.9" stroke-dashoffset="1.2" transform="translate(-1.6,1.8)"/>
<path d="M375.0,38.0C380.8,39.3 398.3,44.0 410.0,46.0C421.7,48.0 435.0,50.0 445.0,50.0C455.0,50.0 465.8,46.7 470.0,46.0" fill="none" stroke="#fbe9b4" stroke-opacity="0.85" stroke-width="1.01" stroke-linecap="round" stroke-dasharray="0.1 8.1" stroke-dashoffset="4.0" transform="translate(2.6,2.4)"/>
<path d="M505.0,32.0C509.2,30.7 520.8,25.7 530.0,24.0C539.2,22.3 550.0,23.3 560.0,22.0C570.0,20.7 585.0,17.0 590.0,16.0" fill="none" stroke="#fbe9b4" stroke-opacity="0.9" stroke-width="3.38" stroke-linecap="round" stroke-dasharray="0.1 12.7" stroke-dashoffset="0" transform="translate(0.0,0.0)"/>
<path d="M505.0,32.0C509.2,30.7 520.8,25.7 530.0,24.0C539.2,22.3 550.0,23.3 560.0,22.0C570.0,20.7 585.0,17.0 590.0,16.0" fill="none" stroke="#fbe9b4" stroke-opacity="0.9" stroke-width="2.34" stroke-linecap="round" stroke-dasharray="0.1 7.3" stroke-dashoffset="2.5" transform="translate(1.8,-1.5)"/>
<path d="M505.0,32.0C509.2,30.7 520.8,25.7 530.0,24.0C539.2,22.3 550.0,23.3 560.0,22.0C570.0,20.7 585.0,17.0 590.0,16.0" fill="none" stroke="#fbe9b4" stroke-opacity="0.85" stroke-width="1.43" stroke-linecap="round" stroke-dasharray="0.1 4.9" stroke-dashoffset="1.2" transform="translate(-1.6,1.8)"/>
<path d="M505.0,32.0C509.2,30.7 520.8,25.7 530.0,24.0C539.2,22.3 550.0,23.3 560.0,22.0C570.0,20.7 585.0,17.0 590.0,16.0" fill="none" stroke="#fbe9b4" stroke-opacity="0.85" stroke-width="1.09" stroke-linecap="round" stroke-dasharray="0.1 8.1" stroke-dashoffset="4.0" transform="translate(2.6,2.4)"/>
<path d="M184.0,136.0C184.7,138.3 187.7,146.0 188.0,150.0C188.3,154.0 186.3,158.3 186.0,160.0" fill="none" stroke="#fbe9b4" stroke-opacity="0.9" stroke-width="4.42" stroke-linecap="round" stroke-dasharray="0.1 7" stroke-dashoffset="0" transform="translate(0.0,0.0)"/>
<path d="M184.0,136.0C184.7,138.3 187.7,146.0 188.0,150.0C188.3,154.0 186.3,158.3 186.0,160.0" fill="none" stroke="#fbe9b4" stroke-opacity="0.9" stroke-width="3.06" stroke-linecap="round" stroke-dasharray="0.1 7" stroke-dashoffset="2.5" transform="translate(1.8,-1.5)"/>
<path d="M184.0,136.0C184.7,138.3 187.7,146.0 188.0,150.0C188.3,154.0 186.3,158.3 186.0,160.0" fill="none" stroke="#fbe9b4" stroke-opacity="0.85" stroke-width="1.87" stroke-linecap="round" stroke-dasharray="0.1 7" stroke-dashoffset="1.2" transform="translate(-1.6,1.8)"/>
<path d="M184.0,136.0C184.7,138.3 187.7,146.0 188.0,150.0C188.3,154.0 186.3,158.3 186.0,160.0" fill="none" stroke="#fbe9b4" stroke-opacity="0.85" stroke-width="1.43" stroke-linecap="round" stroke-dasharray="0.1 7" stroke-dashoffset="4.0" transform="translate(2.6,2.4)"/>
<path d="M200.0,170.0C202.5,172.5 210.3,180.7 215.0,185.0C219.7,189.3 225.8,194.2 228.0,196.0" fill="none" stroke="#fbe9b4" stroke-opacity="0.9" stroke-width="2.86" stroke-linecap="round" stroke-dasharray="0.1 12.7" stroke-dashoffset="0" transform="translate(0.0,0.0)"/>
<path d="M200.0,170.0C202.5,172.5 210.3,180.7 215.0,185.0C219.7,189.3 225.8,194.2 228.0,196.0" fill="none" stroke="#fbe9b4" stroke-opacity="0.9" stroke-width="1.98" stroke-linecap="round" stroke-dasharray="0.1 7.3" stroke-dashoffset="2.5" transform="translate(1.8,-1.5)"/>
<path d="M200.0,170.0C202.5,172.5 210.3,180.7 215.0,185.0C219.7,189.3 225.8,194.2 228.0,196.0" fill="none" stroke="#fbe9b4" stroke-opacity="0.85" stroke-width="1.21" stroke-linecap="round" stroke-dasharray="0.1 4.9" stroke-dashoffset="1.2" transform="translate(-1.6,1.8)"/>
<path d="M200.0,170.0C202.5,172.5 210.3,180.7 215.0,185.0C219.7,189.3 225.8,194.2 228.0,196.0" fill="none" stroke="#fbe9b4" stroke-opacity="0.85" stroke-width="0.92" stroke-linecap="round" stroke-dasharray="0.1 8.1" stroke-dashoffset="4.0" transform="translate(2.6,2.4)"/>
<path d="M1158.0,534.0C1161.3,535.0 1171.0,537.7 1178.0,540.0C1185.0,542.3 1196.3,546.7 1200.0,548.0" fill="none" stroke="#fbe9b4" stroke-opacity="0.9" stroke-width="3.12" stroke-linecap="round" stroke-dasharray="0.1 12.7" stroke-dashoffset="0" transform="translate(0.0,0.0)"/>
<path d="M1158.0,534.0C1161.3,535.0 1171.0,537.7 1178.0,540.0C1185.0,542.3 1196.3,546.7 1200.0,548.0" fill="none" stroke="#fbe9b4" stroke-opacity="0.9" stroke-width="2.16" stroke-linecap="round" stroke-dasharray="0.1 7.3" stroke-dashoffset="2.5" transform="translate(1.8,-1.5)"/>
<path d="M1158.0,534.0C1161.3,535.0 1171.0,537.7 1178.0,540.0C1185.0,542.3 1196.3,546.7 1200.0,548.0" fill="none" stroke="#fbe9b4" stroke-opacity="0.85" stroke-width="1.32" stroke-linecap="round" stroke-dasharray="0.1 4.9" stroke-dashoffset="1.2" transform="translate(-1.6,1.8)"/>
<path d="M1158.0,534.0C1161.3,535.0 1171.0,537.7 1178.0,540.0C1185.0,542.3 1196.3,546.7 1200.0,548.0" fill="none" stroke="#fbe9b4" stroke-opacity="0.85" stroke-width="1.01" stroke-linecap="round" stroke-dasharray="0.1 8.1" stroke-dashoffset="4.0" transform="translate(2.6,2.4)"/>
<path d="M1072.0,620.0C1076.7,621.7 1091.3,625.0 1100.0,630.0C1108.7,635.0 1115.7,641.7 1124.0,650.0C1132.3,658.3 1142.3,669.7 1150.0,680.0C1157.7,690.3 1164.2,700.3 1170.0,712.0C1175.8,723.7 1180.8,736.7 1185.0,750.0C1189.2,763.3 1193.3,785.0 1195.0,792.0" fill="none" stroke="#fbe9b4" stroke-opacity="0.9" stroke-width="3.38" stroke-linecap="round" stroke-dasharray="0.1 12.7" stroke-dashoffset="0" transform="translate(0.0,0.0)"/>
<path d="M1072.0,620.0C1076.7,621.7 1091.3,625.0 1100.0,630.0C1108.7,635.0 1115.7,641.7 1124.0,650.0C1132.3,658.3 1142.3,669.7 1150.0,680.0C1157.7,690.3 1164.2,700.3 1170.0,712.0C1175.8,723.7 1180.8,736.7 1185.0,750.0C1189.2,763.3 1193.3,785.0 1195.0,792.0" fill="none" stroke="#fbe9b4" stroke-opacity="0.9" stroke-width="2.34" stroke-linecap="round" stroke-dasharray="0.1 7.3" stroke-dashoffset="2.5" transform="translate(1.8,-1.5)"/>
<path d="M1072.0,620.0C1076.7,621.7 1091.3,625.0 1100.0,630.0C1108.7,635.0 1115.7,641.7 1124.0,650.0C1132.3,658.3 1142.3,669.7 1150.0,680.0C1157.7,690.3 1164.2,700.3 1170.0,712.0C1175.8,723.7 1180.8,736.7 1185.0,750.0C1189.2,763.3 1193.3,785.0 1195.0,792.0" fill="none" stroke="#fbe9b4" stroke-opacity="0.85" stroke-width="1.43" stroke-linecap="round" stroke-dasharray="0.1 4.9" stroke-dashoffset="1.2" transform="translate(-1.6,1.8)"/>
<path d="M1072.0,620.0C1076.7,621.7 1091.3,625.0 1100.0,630.0C1108.7,635.0 1115.7,641.7 1124.0,650.0C1132.3,658.3 1142.3,669.7 1150.0,680.0C1157.7,690.3 1164.2,700.3 1170.0,712.0C1175.8,723.7 1180.8,736.7 1185.0,750.0C1189.2,763.3 1193.3,785.0 1195.0,792.0" fill="none" stroke="#fbe9b4" stroke-opacity="0.85" stroke-width="1.09" stroke-linecap="round" stroke-dasharray="0.1 8.1" stroke-dashoffset="4.0" transform="translate(2.6,2.4)"/>
<path d="M1040.0,738.0C1043.3,738.7 1053.3,740.0 1060.0,742.0C1066.7,744.0 1076.7,748.7 1080.0,750.0" fill="none" stroke="#fbe9b4" stroke-opacity="0.9" stroke-width="2.34" stroke-linecap="round" stroke-dasharray="0.1 12.7" stroke-dashoffset="0" transform="translate(0.0,0.0)"/>
<path d="M1040.0,738.0C1043.3,738.7 1053.3,740.0 1060.0,742.0C1066.7,744.0 1076.7,748.7 1080.0,750.0" fill="none" stroke="#fbe9b4" stroke-opacity="0.9" stroke-width="1.62" stroke-linecap="round" stroke-dasharray="0.1 7.3" stroke-dashoffset="2.5" transform="translate(1.8,-1.5)"/>
<path d="M1040.0,738.0C1043.3,738.7 1053.3,740.0 1060.0,742.0C1066.7,744.0 1076.7,748.7 1080.0,750.0" fill="none" stroke="#fbe9b4" stroke-opacity="0.85" stroke-width="0.99" stroke-linecap="round" stroke-dasharray="0.1 4.9" stroke-dashoffset="1.2" transform="translate(-1.6,1.8)"/>
<path d="M1040.0,738.0C1043.3,738.7 1053.3,740.0 1060.0,742.0C1066.7,744.0 1076.7,748.7 1080.0,750.0" fill="none" stroke="#fbe9b4" stroke-opacity="0.85" stroke-width="0.76" stroke-linecap="round" stroke-dasharray="0.1 8.1" stroke-dashoffset="4.0" transform="translate(2.6,2.4)"/>
<path d="M1180.0,492.0C1181.3,495.0 1186.0,504.7 1188.0,510.0C1190.0,515.3 1191.3,521.7 1192.0,524.0" fill="none" stroke="#fbe9b4" stroke-opacity="0.9" stroke-width="2.34" stroke-linecap="round" stroke-dasharray="0.1 12.7" stroke-dashoffset="0" transform="translate(0.0,0.0)"/>
<path d="M1180.0,492.0C1181.3,495.0 1186.0,504.7 1188.0,510.0C1190.0,515.3 1191.3,521.7 1192.0,524.0" fill="none" stroke="#fbe9b4" stroke-opacity="0.9" stroke-width="1.62" stroke-linecap="round" stroke-dasharray="0.1 7.3" stroke-dashoffset="2.5" transform="translate(1.8,-1.5)"/>
<path d="M1180.0,492.0C1181.3,495.0 1186.0,504.7 1188.0,510.0C1190.0,515.3 1191.3,521.7 1192.0,524.0" fill="none" stroke="#fbe9b4" stroke-opacity="0.85" stroke-width="0.99" stroke-linecap="round" stroke-dasharray="0.1 4.9" stroke-dashoffset="1.2" transform="translate(-1.6,1.8)"/>
<path d="M1180.0,492.0C1181.3,495.0 1186.0,504.7 1188.0,510.0C1190.0,515.3 1191.3,521.7 1192.0,524.0" fill="none" stroke="#fbe9b4" stroke-opacity="0.85" stroke-width="0.76" stroke-linecap="round" stroke-dasharray="0.1 8.1" stroke-dashoffset="4.0" transform="translate(2.6,2.4)"/>
</g>
</svg>

<svg class="layer" viewBox="0 0 1200 800" width="1200" height="800">
<g stroke="#cbc6c4" stroke-width="1.3">
<line x1="383.3" y1="204" x2="383.3" y2="703.2" stroke="#9f9a98"/>
<line x1="480.3" y1="204" x2="480.3" y2="703.2"/>
<line x1="577.3" y1="204" x2="577.3" y2="703.2"/>
<line x1="674.2" y1="204" x2="674.2" y2="703.2"/>
<line x1="771.1" y1="204" x2="771.1" y2="703.2"/>
<line x1="868.0" y1="204" x2="868.0" y2="703.2"/>
<line x1="964.9" y1="204" x2="964.9" y2="703.2"/>
<line x1="1061.8" y1="204" x2="1061.8" y2="703.2"/>
</g>
<g fill="#75574c">
<path d="M383.2,204.2H978.7a5.5,5.5 0 0 1 5.5,5.5V277.2a5.5,5.5 0 0 1 -5.5,5.5H383.2Z"/>
<path d="M383.2,309.5H881.7a5.5,5.5 0 0 1 5.5,5.5V382.5a5.5,5.5 0 0 1 -5.5,5.5H383.2Z"/>
<path d="M383.2,414.7H815.7a5.5,5.5 0 0 1 5.5,5.5V487.7a5.5,5.5 0 0 1 -5.5,5.5H383.2Z"/>
<path d="M383.2,519.5H753.7a5.5,5.5 0 0 1 5.5,5.5V592.5a5.5,5.5 0 0 1 -5.5,5.5H383.2Z"/>
<path d="M383.2,624.7H720.7a5.5,5.5 0 0 1 5.5,5.5V697.7a5.5,5.5 0 0 1 -5.5,5.5H383.2Z"/>
</g>
</svg>

<div class="abs sub">マイナビ転職　女性のおしごと@給与アップ応援宣言</div>
<div class="abs title">転職活動を始めた理由</div>


<div class="box"></div>

<div class="abs cat" style="top:225px">給料</div>
<div class="abs cat" style="top:330px">仕事内容</div>
<div class="abs cat" style="top:435px">休日／残業</div>
<div class="abs cat" style="top:540.5px;letter-spacing:0.75px;margin-right:-3.6px">ワーク・ライフバランス</div>
<div class="abs cat" style="top:646px">働き方</div>

<div class="abs val" style="left:1018.6px;top:225px;letter-spacing:0.8px">31.1<span style="margin-left:0.3px">%</span></div>
<div class="abs val" style="left:917.3px;top:328.5px">26.0<span>%</span></div>
<div class="abs val" style="left:850.3px;top:433.5px">22.6<span>%</span></div>
<div class="abs val" style="left:781.5px;top:540.2px">19.4<span>%</span></div>
<div class="abs val" style="left:731.5px;top:646.2px">17.7<span>%</span></div>

<div class="abs tick" style="left:333px">0</div>
<div class="abs tick" style="left:430px">5</div>
<div class="abs tick" style="left:527px">10</div>
<div class="abs tick" style="left:624px">15</div>
<div class="abs tick" style="left:721px">20</div>
<div class="abs tick" style="left:818px">25</div>
<div class="abs tick" style="left:915px">30</div>
<div class="abs tick" style="left:1012px">35</div>

<div class="abs pct">(%)</div>
<div class="abs foot">マイナビ転職調べ　n=女性350(複数回答)</div>
</body>
</html>
